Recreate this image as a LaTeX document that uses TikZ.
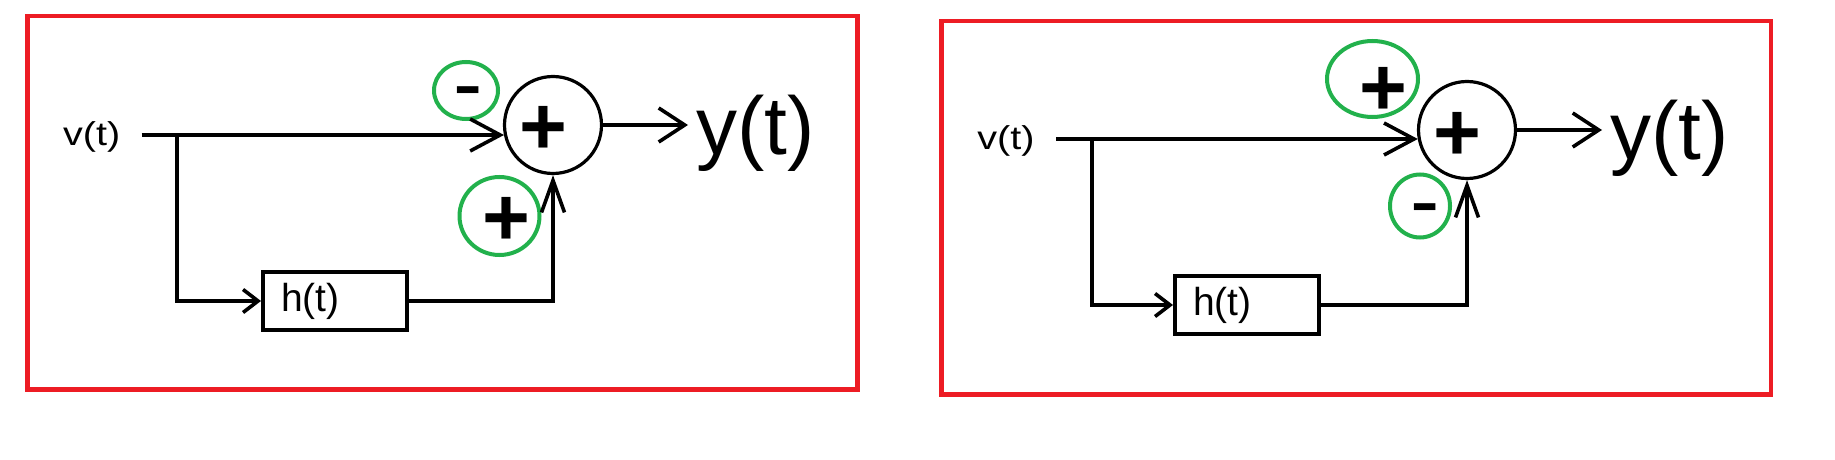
\documentclass[tikz,border=0pt]{standalone}
\usepackage{fontspec}
\setmainfont{Liberation Sans}
\usetikzlibrary{arrows.meta,shapes.geometric,calc}
\definecolor{framered}{HTML}{ED1C24}
\definecolor{markgreen}{HTML}{22B14C}
\tikzset{
  redframe/.style={draw=framered, line width=2.25pt},
  sig/.style={draw=black, line width=1.8pt},
  sumnode/.style={circle, draw, line width=1.6pt, minimum size=48.5pt, inner sep=0pt},
  blockbox/.style={rectangle, draw, line width=2pt, minimum height=29pt,
    inner xsep=9pt, inner ysep=0pt, text width=54pt, align=left,
    font=\fontsize{19.5}{19.5}\selectfont},
  signtext/.style={font=\bfseries\fontsize{41}{41}\selectfont, inner sep=0pt, anchor=base},
  minustext/.style={font=\fontsize{44}{44}\selectfont, inner sep=0pt, anchor=base},
  intext/.style={font=\fontsize{16.5}{16.5}\selectfont, inner sep=0pt, anchor=base west},
  outtext/.style={font=\fontsize{41}{41}\selectfont, inner xsep=4pt, inner ysep=0pt, anchor=base west},
  greenmark/.style={ellipse, draw=markgreen, line width=2pt, inner sep=0pt},
  tipmain/.style={-{Straight Barb[length=15pt,width=16pt]}},
  tipbox/.style={-{Straight Barb[length=7.5pt,width=11.5pt]}},
  tipup/.style={-{Straight Barb[length=16pt,width=11.5pt]}},
  tipout/.style={-{Straight Barb[length=13pt,width=17pt]}},
}
\begin{document}
\begin{tikzpicture}[x=0.5pt,y=-0.5pt]
\useasboundingbox (0,0) rectangle (1835,460);
% ---------- left panel ----------
\draw[redframe] (27.5,16) rectangle (857.5,389.5);
\node[intext] (vtL) at (62.7,145.8) {\scalebox{1.2}[1]{v(t)}};
\node[sumnode] (sumL) at (553,125) {};
\node[signtext] (plusL) at (543.5,155) {+};
\node[blockbox] (hL) at (335,301) {h(t)};
\node[outtext] (ytL) at (688,155) {y(t)};
\node[greenmark, minimum width=32pt, minimum height=28.5pt] (mL) at (466,90.5) {};
\node[minustext] (mLs) at (468,113.5) {-};
\node[greenmark, minimum width=40pt, minimum height=39pt] (pL) at (499.5,216) {};
\node[signtext] (pLs) at (506.5,245.5) {+};
\coordinate (sL) at (141.7,135);
\coordinate (bL) at (177,135);
\draw[sig,tipmain] (sL) -- (sL -| sumL.192);
\draw[sig,tipbox] (bL) |- (hL.west);
\draw[sig,tipup] (hL.east) -| (sumL.south);
\draw[sig,tipout] (sumL.east) -- (sumL.east -| ytL.west);
% ---------- right panel ----------
\draw[redframe] (941.5,21) rectangle (1771,394.5);
\node[intext] (vtR) at (977,149.7) {\scalebox{1.2}[1]{v(t)}};
\node[sumnode] (sumR) at (1467,130) {};
\node[signtext] (plusR) at (1457,160.5) {+};
\node[blockbox] (hR) at (1247,305) {h(t)};
\node[outtext] (ytR) at (1602,159.5) {y(t)};
\node[greenmark, minimum width=45.5pt, minimum height=38pt] (pR) at (1372.5,79) {};
\node[signtext] (pRs) at (1383,115.5) {+};
\node[greenmark, minimum width=30pt, minimum height=31.5pt] (mR) at (1420,206) {};
\node[minustext] (mRs) at (1425,230) {-};
\coordinate (sR) at (1056,139);
\coordinate (bR) at (1092,139);
\draw[sig,tipmain] (sR) -- (sR -| sumR.191);
\draw[sig,tipbox] (bR) |- (hR.west);
\draw[sig,tipup] (hR.east) -| (sumR.south);
\draw[sig,tipout] (sumR.east) -- (sumR.east -| ytR.west);
\end{tikzpicture}
\end{document}
